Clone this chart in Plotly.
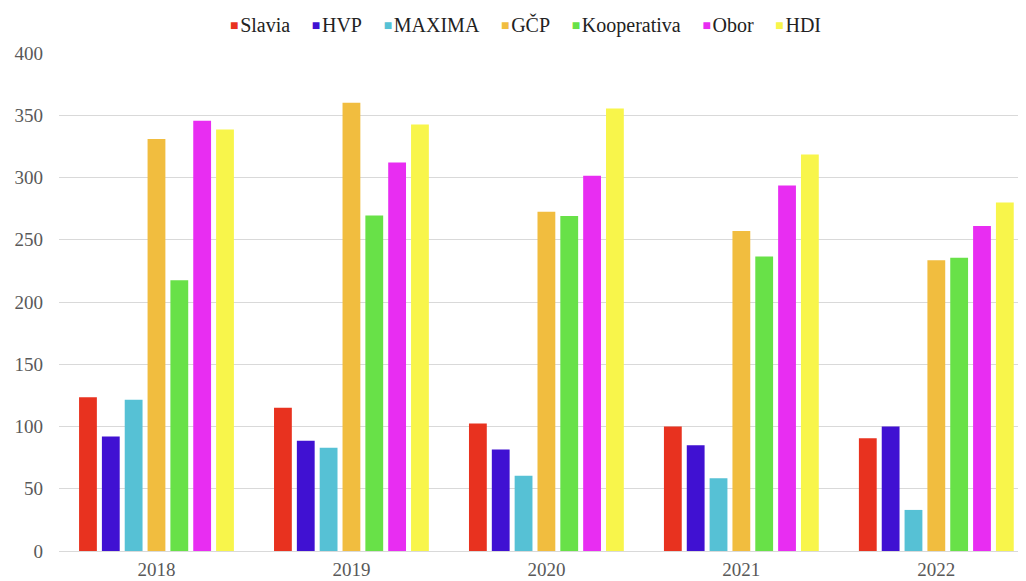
import plotly.graph_objects as go

years = ["2018", "2019", "2020", "2021", "2022"]
series_names = ["Slavia", "HVP", "MAXIMA", "GČP", "Kooperativa", "Obor", "HDI"]
slavia = [123.5, 115, 102.5, 100, 90.5]
hvp = [92, 88.5, 81.5, 85, 100]
maxima = [121.5, 83, 60.5, 58.5, 33]
gcp = [331, 360, 272.5, 257, 233.5]
kooperativa = [217.5, 269.5, 269, 236.5, 235.5]
obor = [345.5, 312, 301.5, 293.5, 261]
hdi = [338.5, 342.5, 355.5, 318.5, 280]
colors = ["#E8321F", "#4011D2", "#56C1D5", "#F1BD3F", "#68E148", "#E82DF2", "#F8F54B"]

values = [slavia, hvp, maxima, gcp, kooperativa, obor, hdi]

FONT = "'Liberation Serif', 'Times New Roman', serif"

fig = go.Figure()
for name, vals, col in zip(series_names, values, colors):
    fig.add_trace(go.Bar(x=years, y=vals, name=name, showlegend=False,
                         marker=dict(color=col, line=dict(width=0))))

# compact legend line (coloured square directly before each name)
legend_parts = []
for name, col in zip(series_names, colors):
    legend_parts.append(
        "<span style='color:%s;font-size:14px;baseline-shift:2px'>■</span>\u200a%s" % (col, name)
    )
legend_text = "\u2003\u200a".join(legend_parts)

fig.add_annotation(
    text=legend_text, xref="paper", yref="paper", x=0.482, y=1.056,
    xanchor="center", yanchor="middle", showarrow=False,
    font=dict(family=FONT, size=20, color="#222222"),
)

fig.update_layout(
    width=1018, height=573,
    paper_bgcolor="white", plot_bgcolor="white",
    margin=dict(l=51, r=0, t=45, b=30, autoexpand=False),
    barmode="group", bargap=0.18, bargroupgap=0.22,
    font=dict(family=FONT, size=19, color="#595959"),
    showlegend=False,
    xaxis=dict(type="category", range=[-0.5, 4.46], showgrid=False, showline=False,
               ticks="", tickfont=dict(family=FONT, size=19, color="#595959"),
               ticklabelstandoff=5),
    yaxis=dict(range=[0, 400], dtick=50, showgrid=True, gridcolor="#D9D9D9", gridwidth=1,
               zeroline=True, zerolinecolor="#D9D9D9", zerolinewidth=1, showline=False,
               ticks="", tickfont=dict(family=FONT, size=19, color="#595959"),
               ticklabelstandoff=15),
)

fig.write_html("out.html")
